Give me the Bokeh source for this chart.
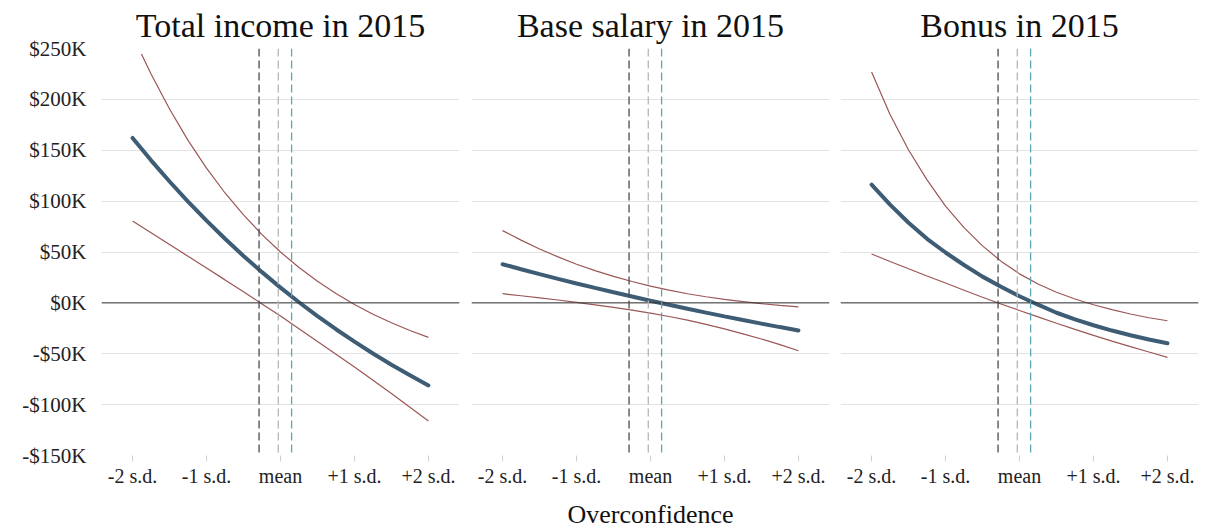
from bokeh.plotting import figure
from bokeh.layouts import row
from bokeh.models import FixedTicker, Span
from bokeh.embed import file_html
from bokeh.resources import INLINE

# ---------------- data (values in $K, x in s.d. of overconfidence) ----------------
x_sd = [-2, -1.75, -1.5, -1.25, -1, -0.75, -0.5, -0.25, 0, 0.25, 0.5, 0.75, 1, 1.25, 1.5, 1.75, 2]
x_sd_clipped = [-1.88, -1.75, -1.5, -1.25, -1, -0.75, -0.5, -0.25, 0, 0.25, 0.5, 0.75, 1, 1.25, 1.5, 1.75, 2]

titles = ["Total income in 2015", "Base salary in 2015", "Bonus in 2015"]

total_est = [162.1, 140.1, 119.3, 99.5, 80.8, 63.0, 46.1, 30.2, 15.0, 0.6, -13.0, -25.9, -38.1, -49.8, -60.8, -71.2, -81.1]
total_upper = [244.6, 225.0, 190.5, 159.7, 132.4, 108.0, 86.4, 67.1, 50.0, 34.8, 21.2, 9.2, -1.6, -11.1, -19.6, -27.2, -33.9]
total_lower = [80.5, 69.0, 57.4, 45.8, 34.2, 22.6, 10.9, -1.0, -13.0, -25.5, -38.0, -50.5, -63.0, -76.0, -89.0, -102.5, -116.0]

salary_est = [38.0, 33.1, 28.3, 23.6, 19.1, 14.7, 10.4, 6.2, 2.1, -1.9, -5.8, -9.6, -13.3, -16.9, -20.4, -23.8, -27.1]
salary_upper = [71.0, 61.7, 53.0, 45.2, 38.0, 31.7, 26.0, 21.0, 16.5, 12.5, 9.0, 6.0, 3.5, 1.3, -0.8, -2.5, -4.0]
salary_lower = [9.0, 7.0, 5.0, 2.8, 0.5, -2.0, -4.5, -7.2, -10.0, -13.4, -17.0, -21.1, -25.5, -30.4, -35.5, -41.1, -47.0]

bonus_est = [116.2, 96.5, 78.8, 63.0, 49.5, 37.2, 25.8, 15.8, 6.5, -1.8, -9.7, -16.2, -22.0, -27.2, -31.8, -36.0, -39.7]
bonus_upper = [226.8, 185.2, 150.3, 120.9, 95.0, 74.0, 56.0, 41.0, 28.5, 18.5, 10.5, 3.8, -1.8, -6.6, -10.9, -14.6, -17.6]
bonus_lower = [48.0, 40.7, 33.5, 26.4, 19.5, 12.4, 5.5, -1.1, -7.5, -13.8, -20.0, -26.1, -32.0, -37.6, -43.0, -48.3, -53.5]

x_ticks = [-2, -1, 0, 1, 2]
x_tick_labels = ["-2 s.d.", "-1 s.d.", "mean", "+1 s.d.", "+2 s.d."]
y_ticks = [-150, -100, -50, 0, 50, 100, 150, 200, 250]
y_tick_labels = ["-$150K", "-$100K", "-$50K", "$0K", "$50K", "$100K", "$150K", "$200K", "$250K"]

ref_lines = [-0.29, -0.03, 0.15]
ref_colors = ["#4a4a4a", "#b5b5b5", "#5aa6b6"]

panels = [
    (x_sd, total_est, x_sd_clipped, total_upper, x_sd, total_lower),
    (x_sd, salary_est, x_sd, salary_upper, x_sd, salary_lower),
    (x_sd, bonus_est, x_sd, bonus_upper, x_sd, bonus_lower),
]

# ---------------- style ----------------
FONT = "Liberation Serif"
EST_COLOR = "#3e5d75"
CI_COLOR = "#9b5656"
GRID_COLOR = "#e3e3e3"
FRAME_W, FRAME_H = 358, 407
borders = [(101, 4), (8, 4), (7, 7)]

figs = []
for i, (title, data, (bl, br)) in enumerate(zip(titles, panels, borders)):
    p = figure(frame_width=FRAME_W, frame_height=FRAME_H,
               x_range=(-2.42, 2.42), y_range=(-150, 250),
               output_backend="svg", toolbar_location=None,
               min_border_left=bl, min_border_right=br,
               min_border_top=47, min_border_bottom=77)
    p.title.text = title
    p.title.align = "center"
    p.title.text_font = FONT
    p.title.text_font_size = "34px"
    p.title.text_font_style = "normal"
    p.title.text_color = "#111111"
    p.title.standoff = 9
    p.outline_line_color = None
    p.background_fill_color = "white"

    p.xgrid.grid_line_color = None
    p.ygrid.ticker = FixedTicker(ticks=y_ticks)
    p.ygrid.grid_line_color = GRID_COLOR
    p.ygrid.grid_line_width = 1

    p.xaxis.ticker = FixedTicker(ticks=x_ticks)
    p.xaxis.major_label_overrides = dict(zip(x_ticks, x_tick_labels))
    p.xaxis.axis_line_color = None
    p.xaxis.major_tick_line_color = "#cfcfcf"
    p.xaxis.major_tick_in = 0
    p.xaxis.major_tick_out = 6
    p.xaxis.minor_tick_line_color = None
    p.xaxis.major_label_text_font = FONT
    p.xaxis.major_label_text_font_size = "20px"
    p.xaxis.major_label_text_color = "#222222"
    p.xaxis.major_label_standoff = 3

    p.yaxis.ticker = FixedTicker(ticks=y_ticks)
    p.yaxis.major_label_overrides = dict(zip(y_ticks, y_tick_labels))
    p.yaxis.axis_line_color = None
    p.yaxis.major_tick_line_color = None
    p.yaxis.minor_tick_line_color = None
    p.yaxis.major_label_text_font = FONT
    p.yaxis.major_label_text_font_size = "21px"
    p.yaxis.major_label_text_color = "#222222"
    p.yaxis.major_label_standoff = 9
    if i > 0:
        p.yaxis.visible = False

    if i == 1:
        p.xaxis.axis_label = "Overconfidence"
        p.xaxis.axis_label_text_font = FONT
        p.xaxis.axis_label_text_font_size = "26px"
        p.xaxis.axis_label_text_font_style = "normal"
        p.xaxis.axis_label_text_color = "#111111"
        p.xaxis.axis_label_standoff = 10

    # reference lines
    p.add_layout(Span(location=0, dimension="width", line_color="#333333", line_width=1))
    for loc, col in zip(ref_lines, ref_colors):
        p.add_layout(Span(location=loc, dimension="height", line_color=col,
                          line_width=1.3, line_dash="8 4"))

    xe, ye, xu, yu, xl, yl = data
    p.line(xu, yu, line_color=CI_COLOR, line_width=1.2)
    p.line(xl, yl, line_color=CI_COLOR, line_width=1.2)
    p.line(xe, ye, line_color=EST_COLOR, line_width=4, line_cap="round")
    figs.append(p)

layout = row(*figs)
open("out.html", "w").write(file_html(layout, INLINE))
